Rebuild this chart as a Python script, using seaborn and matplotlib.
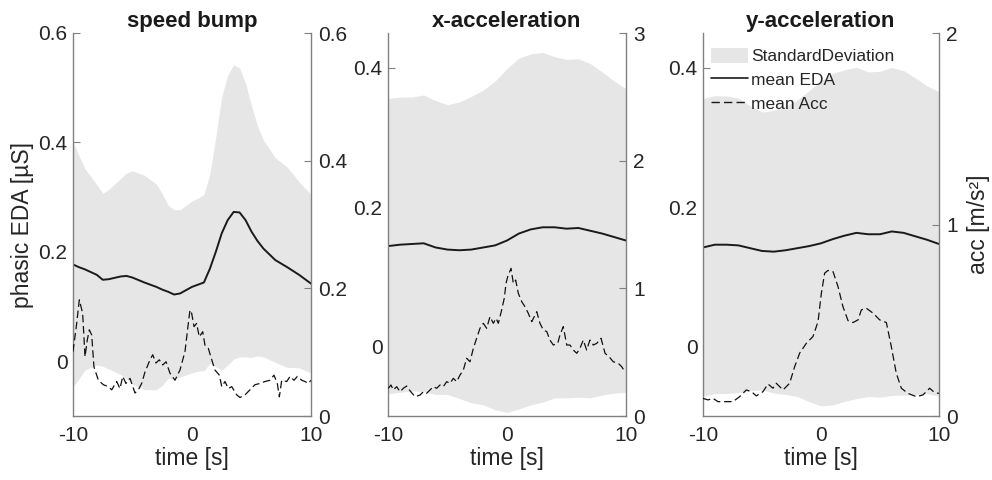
import numpy as np
import pandas as pd
import matplotlib
matplotlib.use("Agg")
import matplotlib.pyplot as plt
import seaborn as sns
from matplotlib.patches import Patch
from matplotlib.lines import Line2D

# ---------------- data ----------------
titles = ["speed bump", "x-acceleration", "y-acceleration"]

# panel 1 : speed bump
t_eda1 = [-10, -9.5, -9, -8, -7.5, -7, -6, -5.5, -5, -4, -3, -2.5, -2, -1.5, -1, 0, 0.5, 1,
          1.5, 2, 2.5, 3, 3.5, 4, 4.5, 5, 5.5, 6, 7, 8, 9, 10]
mean_eda1 = [0.177, 0.172, 0.168, 0.158, 0.149, 0.150, 0.155, 0.156, 0.153, 0.144, 0.136, 0.131,
             0.127, 0.122, 0.124, 0.136, 0.140, 0.144, 0.169, 0.200, 0.234, 0.258, 0.273, 0.272,
             0.258, 0.237, 0.220, 0.206, 0.185, 0.172, 0.158, 0.142]
std_eda1 = [0.224, 0.204, 0.184, 0.165, 0.158, 0.164, 0.179, 0.188, 0.195, 0.196, 0.188, 0.175,
            0.158, 0.155, 0.153, 0.157, 0.158, 0.161, 0.173, 0.210, 0.250, 0.265, 0.269, 0.264,
            0.250, 0.230, 0.210, 0.198, 0.187, 0.183, 0.170, 0.163]
t_acc1 = [-10.0, -9.69, -9.47, -9.19, -8.99, -8.8, -8.63, -8.43, -8.24, -7.87, -7.45, -7.03,
          -6.75, -6.33, -6.05, -5.82, -5.55, -5.21, -4.79, -4.51, -4.23, -3.95, -3.53, -3.3,
          -3.03, -2.75, -2.46, -2.18, -1.85, -1.43, -1.01, -0.59, -0.31, -0.17, -0.03, 0.17,
          0.39, 0.61, 0.9, 1.09, 1.37, 1.66, 1.93, 2.3, 2.5, 2.77, 3.05, 3.34, 3.76, 4.03,
          4.45, 4.87, 5.29, 5.71, 6.13, 6.55, 6.89, 7.17, 7.34, 7.54, 7.96, 8.24, 8.57, 8.85,
          9.22, 9.5, 9.78, 10.0]
acc1 = [0.101, 0.145, 0.182, 0.161, 0.093, 0.119, 0.135, 0.127, 0.077, 0.056, 0.049, 0.046,
        0.041, 0.054, 0.043, 0.062, 0.051, 0.059, 0.036, 0.041, 0.051, 0.069, 0.088, 0.096,
        0.083, 0.088, 0.080, 0.085, 0.067, 0.056, 0.072, 0.101, 0.145, 0.166, 0.161, 0.140,
        0.145, 0.124, 0.132, 0.111, 0.106, 0.088, 0.072, 0.064, 0.046, 0.054, 0.043, 0.046,
        0.033, 0.029, 0.033, 0.041, 0.049, 0.051, 0.054, 0.056, 0.064, 0.051, 0.030, 0.056,
        0.054, 0.062, 0.056, 0.062, 0.056, 0.054, 0.051, 0.056]

# panel 2 : x-acceleration
t_eda2 = [-10, -9, -8, -7, -6, -5, -4, -3, -2, -1, 0, 1, 2, 3, 4, 5, 6, 7, 8, 9, 10]
mean_eda2 = [0.144, 0.146, 0.147, 0.148, 0.142, 0.139, 0.138, 0.139, 0.142, 0.145, 0.152,
             0.162, 0.168, 0.171, 0.171, 0.169, 0.170, 0.166, 0.162, 0.157, 0.152]
std_eda2 = [0.212, 0.212, 0.211, 0.213, 0.211, 0.208, 0.213, 0.220, 0.226, 0.236, 0.247,
            0.252, 0.252, 0.251, 0.245, 0.243, 0.243, 0.240, 0.232, 0.224, 0.218]
t_acc2 = [-9.97, -9.75, -9.55, -9.27, -8.99, -8.71, -8.43, -8.15, -7.73, -7.31, -7.03, -6.75,
          -6.47, -6.19, -5.91, -5.63, -5.35, -5.07, -4.79, -4.51, -4.23, -3.95, -3.67, -3.39,
          -3.11, -2.83, -2.55, -2.27, -1.99, -1.71, -1.43, -1.15, -0.92, -0.73, -0.45, -0.23,
          -0.08, 0.06, 0.34, 0.53, 0.73, 0.95, 1.24, 1.51, 1.79, 2.08, 2.5, 2.77, 3.05, 3.34,
          3.61, 3.89, 4.26, 4.45, 4.73, 5.02, 5.29, 5.57, 5.86, 6.13, 6.41, 6.69, 6.97, 7.25,
          7.54, 7.9, 8.24, 8.57, 8.93, 9.35, 9.63, 9.91]
acc2 = [0.217, 0.243, 0.204, 0.230, 0.190, 0.217, 0.235, 0.198, 0.151, 0.164, 0.190, 0.178,
        0.204, 0.230, 0.217, 0.243, 0.230, 0.269, 0.256, 0.295, 0.269, 0.321, 0.360, 0.452,
        0.425, 0.530, 0.609, 0.687, 0.726, 0.687, 0.778, 0.726, 0.765, 0.726, 0.830, 0.922,
        1.040, 1.091, 1.157, 1.039, 1.065, 0.961, 0.895, 0.856, 0.804, 0.739, 0.817, 0.726,
        0.674, 0.661, 0.595, 0.556, 0.569, 0.634, 0.700, 0.556, 0.556, 0.517, 0.491, 0.530,
        0.595, 0.517, 0.595, 0.556, 0.569, 0.609, 0.491, 0.465, 0.425, 0.413, 0.387, 0.347]

# panel 3 : y-acceleration
t_eda3 = [-10, -9, -8, -7, -6, -5, -4, -3, -2, -1, 0, 1, 2, 3, 4, 5, 6, 7, 8, 9, 10]
mean_eda3 = [0.142, 0.146, 0.146, 0.145, 0.141, 0.137, 0.136, 0.138, 0.141, 0.144, 0.148,
             0.154, 0.159, 0.163, 0.161, 0.161, 0.165, 0.163, 0.158, 0.153, 0.147]
std_eda3 = [0.2135, 0.214, 0.2135, 0.2115, 0.2045, 0.1995, 0.203, 0.207, 0.213, 0.2235,
            0.2335, 0.238, 0.238, 0.238, 0.233, 0.234, 0.2355, 0.233, 0.2275, 0.221, 0.2185]
t_acc3 = [-10.0, -9.58, -9.15, -8.73, -8.02, -7.46, -6.9, -6.33, -5.9, -5.48, -4.92, -4.49,
          -4.07, -3.79, -3.22, -2.66, -2.23, -1.81, -1.24, -0.68, -0.25, 0.03, 0.31, 0.59,
          1.02, 1.44, 1.86, 2.29, 2.71, 3.14, 3.42, 3.84, 4.41, 4.97, 5.54, 5.96, 6.38, 6.81,
          7.37, 8.08, 8.64, 9.21, 9.63, 10.0]
acc3 = [0.092, 0.084, 0.092, 0.075, 0.075, 0.075, 0.101, 0.136, 0.127, 0.105, 0.127, 0.167,
        0.145, 0.171, 0.136, 0.171, 0.258, 0.328, 0.380, 0.415, 0.493, 0.641, 0.746, 0.760,
        0.754, 0.676, 0.571, 0.498, 0.488, 0.502, 0.554, 0.563, 0.537, 0.502, 0.488, 0.362,
        0.223, 0.145, 0.118, 0.101, 0.110, 0.145, 0.122, 0.118]

eda_t = [t_eda1, t_eda2, t_eda3]
eda_mean = [mean_eda1, mean_eda2, mean_eda3]
eda_std = [std_eda1, std_eda2, std_eda3]
acc_t = [t_acc1, t_acc2, t_acc3]
acc_mean = [acc1, acc2, acc3]

left_ylims = [(-0.1, 0.6), (-0.1, 0.45), (-0.1, 0.45)]
left_ticks = [[0, 0.2, 0.4, 0.6], [0, 0.2, 0.4], [0, 0.2, 0.4]]
left_ticklabels = [["0", "0.2", "0.4", "0.6"], ["0", "0.2", "0.4"], ["0", "0.2", "0.4"]]
right_ylims = [(0, 0.6), (0, 3), (0, 2)]
right_ticks = [[0, 0.2, 0.4, 0.6], [0, 1, 2, 3], [0, 1, 2]]
right_ticklabels = [["0", "0.2", "0.4", "0.6"], ["0", "1", "2", "3"], ["0", "1", "2"]]
x_ticks = [-10, 0, 10]
x_ticklabels = ["-10", "0", "10"]

# ---------------- style ----------------
sns.set_theme(style="white")
plt.rcParams['font.family'] = ['Liberation Sans', 'DejaVu Sans']

FILL = '#e6e6e6'
SPINE = '#808080'
TXT = '#262626'

fig = plt.figure(figsize=(9.92, 4.8), dpi=100)
W, H = 992, 480
boxes = [(73, 311), (388, 626), (703, 939)]
top_px, bot_px = 33, 416

for i in range(3):
    l, r = boxes[i]
    ax = fig.add_axes([l / W, 1 - bot_px / H, (r - l) / W, (bot_px - top_px) / H])
    ax.set_facecolor('none')
    df = pd.DataFrame({"t": eda_t[i], "m": eda_mean[i], "s": eda_std[i]})
    ax.fill_between(df["t"], df["m"] - df["s"], df["m"] + df["s"], color=FILL, lw=0)
    sns.lineplot(data=df, x="t", y="m", ax=ax, color='#1a1a1a', lw=1.4,
                 estimator=None, sort=False)
    ax.set_xlim(-10, 10)
    ax.set_ylim(*left_ylims[i])
    ax.set_xticks(x_ticks)
    ax.set_xticklabels(x_ticklabels)
    ax.set_yticks(left_ticks[i])
    ax.set_yticklabels(left_ticklabels[i])
    ax.set_xlabel("time [s]", fontsize=16.5, color=TXT, labelpad=2)
    ax.set_ylabel("phasic EDA [µS]" if i == 0 else "", fontsize=16.5, color=TXT, labelpad=3)
    ax.set_title(titles[i], fontsize=16, fontweight='bold', color='#1a1a1a', pad=4)
    ax.tick_params(axis='both', direction='in', length=5, width=0.8, color=SPINE,
                   labelcolor=TXT, labelsize=15)
    ax.tick_params(axis='x', pad=7)
    ax.tick_params(axis='y', pad=4)
    for s in ['top', 'right']:
        ax.spines[s].set_visible(False)
    for s in ['left', 'bottom']:
        ax.spines[s].set_color(SPINE)
        ax.spines[s].set_linewidth(1.0)

    ax2 = ax.twinx()
    dfa = pd.DataFrame({"t": acc_t[i], "a": acc_mean[i]})
    sns.lineplot(data=dfa, x="t", y="a", ax=ax2, color='#111111', lw=0.9,
                 linestyle=(0, (6, 3)), estimator=None, sort=False)
    ax2.set_xlim(-10, 10)
    ax2.set_ylim(*right_ylims[i])
    ax2.set_yticks(right_ticks[i])
    ax2.set_yticklabels(right_ticklabels[i])
    ax2.set_ylabel("acc [m/s²]" if i == 2 else "", fontsize=16.5, color=TXT, labelpad=7)
    ax2.tick_params(axis='y', direction='in', length=5, width=0.8, color=SPINE,
                    labelcolor=TXT, labelsize=15, pad=5)
    for s in ['top', 'left', 'bottom']:
        ax2.spines[s].set_visible(False)
    ax2.spines['right'].set_color(SPINE)
    ax2.spines['right'].set_linewidth(1.0)

    if i == 2:
        handles = [Patch(facecolor=FILL, edgecolor='none'),
                   Line2D([0], [0], color='#1a1a1a', lw=1.2),
                   Line2D([0], [0], color='#1a1a1a', lw=1.0, linestyle=(0, (6, 3)))]
        ax2.legend(handles, ["StandardDeviation", "mean EDA", "mean Acc"],
                   loc='upper left', bbox_to_anchor=(0.035, 0.962), frameon=False,
                   fontsize=12.5, handlelength=2.1, handleheight=1.0, handletextpad=0.2,
                   labelspacing=0.4, borderpad=0, borderaxespad=0,
                   labelcolor=TXT)

fig.savefig("out.png", dpi=100)
